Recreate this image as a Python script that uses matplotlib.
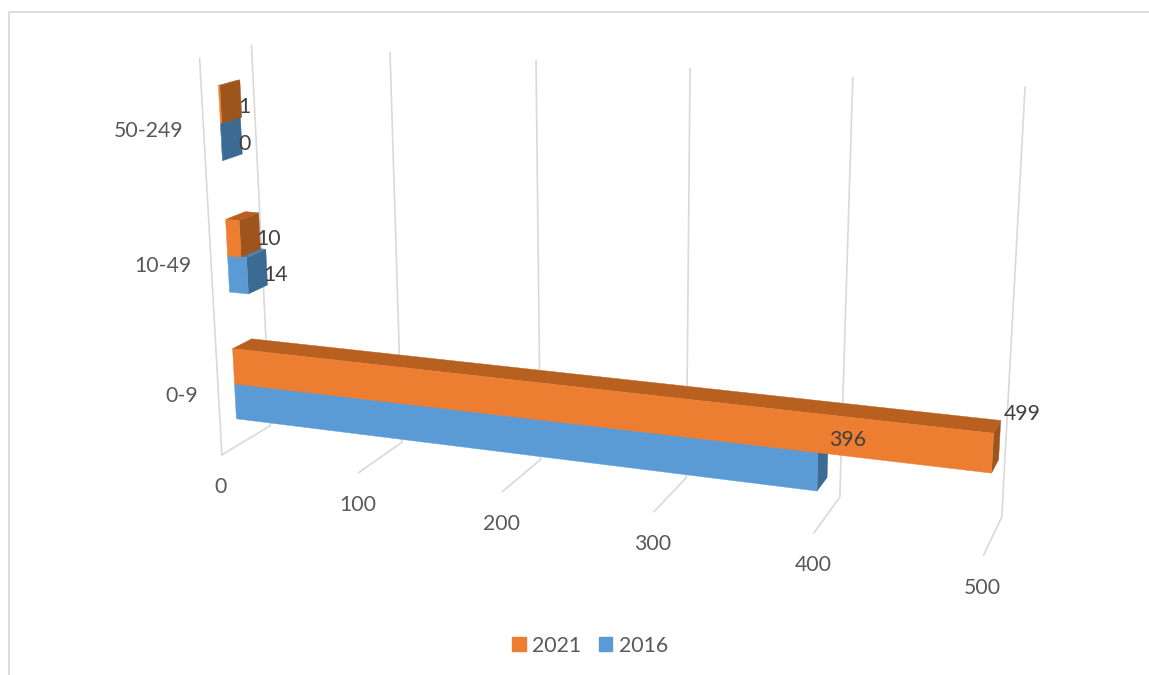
import numpy as np
import matplotlib
matplotlib.use("Agg")
import matplotlib.pyplot as plt
from matplotlib.patches import Polygon, Patch

plt.rcParams['font.family'] = ['Lato', 'DejaVu Sans']

# --- data ---
categories = ["0-9", "10-49", "50-249"]
values_2016 = [396, 14, 0]
values_2021 = [499, 10, 1]
ticks = [0, 100, 200, 300, 400, 500]

# --- colours: front, top, end of the bar ---
ORANGE = ("#ED7D31", "#B86020", "#9E551D")
BLUE = ("#5B9BD5", "#4A80B0", "#3B6A92")
GRID = "#D9D9D9"
FS = 15.3

# --- perspective of the Excel 3D plot box, fitted to where its frame sits ---
# box coords: value/500, depth 0-1 (front-back), height 0-1
floor_front = [(222, 455), (358, 473), (502, 492), (654, 511), (815, 533), (983, 555)]
floor_back = [(270, 425), (402, 442), (541, 460), (687, 477), (840, 497), (1001, 518)]
wall_top = [(251, 46), (390, 53), (536, 61), (690, 69), (853, 78), (1025, 86)]
corner_top = (200, 58)

world, image = [], []
for i, t in enumerate(ticks):
    world += [(t / 500, 0, 0), (t / 500, 1, 0), (t / 500, 1, 1)]
    image += [floor_front[i], floor_back[i], wall_top[i]]
world.append((0, 0, 1))
image.append(corner_top)

rows, rhs = [], []
for (x, y, z), (u, v) in zip(world, image):
    rows.append([x, y, z, 1, 0, 0, 0, 0, -u * x, -u * y, -u * z])
    rows.append([0, 0, 0, 0, x, y, z, 1, -v * x, -v * y, -v * z])
    rhs += [u, v]
sol = np.linalg.lstsq(np.array(rows, float), np.array(rhs, float), rcond=None)[0]
P = np.append(sol, 1.0).reshape(3, 4)


def project(value, depth, height):
    p = P @ np.array([value / 500, depth, height, 1.0])
    return p[0] / p[2], p[1] / p[2]


# --- figure, axes in pixels ---
fig = plt.figure(figsize=(11.49, 6.75), dpi=100)
ax = fig.add_axes([0, 0, 1, 1])
ax.set_xlim(0, 1149)
ax.set_ylim(675, 0)
ax.axis("off")

# outer chart border (only top and left are in the crop)
ax.plot([9, 9, 1149], [675, 12, 12], color="#DDDDDD", lw=1.4, zorder=1)

# grid
for t in ticks:
    pts = [project(t, 0, 0), project(t, 1, 0), project(t, 1, 1)]
    ax.plot(*zip(*pts), color=GRID, lw=1.2, zorder=1, solid_joinstyle="miter")
    x, y = project(t, 0, 0)
    ax.text(x - 1, y + 32.5, str(t), ha="center", va="center", fontsize=FS, color="#595959")
ax.plot(*zip(project(0, 0, 0), project(0, 0, 1)), color=GRID, lw=1.2, zorder=1)

# bars
D0, D1 = 0.32, 0.71
GAP = 0.071
BAR_H = 0.093
z = 3


def face(pts, color):
    global z
    ax.add_patch(Polygon(pts, closed=True, facecolor=color, edgecolor=color, lw=0.3, zorder=z))
    z += 1


def bar(value, z0, z1, cols):
    # end face and top face first, front last
    face([project(value, D0, z0), project(value, D1, z0), project(value, D1, z1), project(value, D0, z1)], cols[2])
    face([project(0, D0, z1), project(value, D0, z1), project(value, D1, z1), project(0, D1, z1)], cols[1])
    face([project(0, D0, z0), project(value, D0, z0), project(value, D0, z1), project(0, D0, z1)], cols[0])


for i, cat in enumerate(categories):
    base = i / 3 + GAP
    bar(values_2016[i], base, base + BAR_H, BLUE)
    bar(values_2021[i], base + BAR_H, base + 2 * BAR_H, ORANGE)
    x, y = project(0, 0, i / 3 + 1 / 6)
    ax.text(x - 20, y + 4, cat, ha="right", va="center", fontsize=FS, color="#595959", zorder=50)

# data labels, next to the bar ends; the long bars have theirs lifted as Excel does
for i in range(3):
    base = i / 3 + GAP
    nudge_2016 = (-1, -19) if i == 0 else (-5, 8)
    nudge_2021 = (2, -26) if i == 0 else (-5, 8)
    for val, mid, off in [(values_2016[i], base + BAR_H / 2, nudge_2016),
                          (values_2021[i], base + 1.5 * BAR_H, nudge_2021)]:
        x, y = project(val, D1, mid)
        ax.text(x + 2 + off[0], y + off[1], str(val), ha="left", va="center",
                fontsize=FS, color="#404040", zorder=60)

ax.legend(handles=[Patch(color=ORANGE[0], label="2021"), Patch(color=BLUE[0], label="2016")],
          loc="center", bbox_to_anchor=(590 / 1149, 1 - 645.5 / 675), ncol=2, frameon=False,
          fontsize=FS, labelcolor="#595959", handlelength=0.65, handleheight=0.65,
          handletextpad=0.3, columnspacing=0.8, borderpad=0, borderaxespad=0)

fig.savefig("out.png", dpi=100)
